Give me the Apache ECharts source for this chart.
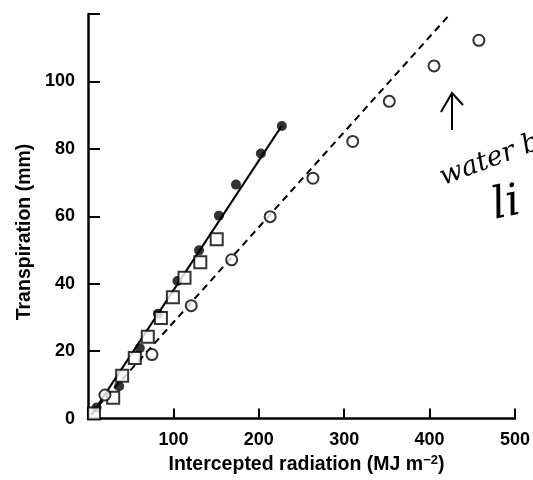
<!DOCTYPE html>
<html>
<head>
<meta charset="utf-8">
<script src="https://cdn.jsdelivr.net/npm/echarts@6/dist/echarts.min.js"></script>
<style>html,body{margin:0;padding:0;background:#fff;}#c{width:533px;height:480px;}</style>
</head>
<body>
<div id="c"></div>
<script>
// Filled circles (solid line)
var filledX = [10, 36.5, 60.6, 81.9, 104.7, 130, 153.3, 173.3, 202.4, 227];
var filledY = [3.3, 9.6, 20.9, 31.1, 40.8, 49.9, 60.2, 69.4, 78.6, 86.8];
// Open squares
var squareX = [7, 29.5, 40, 54.8, 70, 85.4, 99.4, 113, 131.5, 150.7];
var squareY = [1.5, 6.2, 12.7, 18, 24.3, 29.8, 36, 41.8, 46.4, 53.2];
// Open circles (dashed line)
var openX = [19.8, 74.9, 120.9, 168.2, 213.3, 263.4, 310, 352.8, 405.2, 457.7];
var openY = [7.0, 19.0, 33.5, 47.1, 59.9, 71.3, 82.2, 94.1, 104.6, 112.2];
// Fitted lines (end points)
var solidLineX = [4, 227];
var solidLineY = [1.1, 86.9];
var dashLineX = [12, 424];
var dashLineY = [3.7, 120];
// Axis ticks
var xTicks = [0, 100, 200, 300, 400, 500];
var yTicks = [0, 20, 40, 60, 80, 100, 120];
// Texts
var xTitle = 'Intercepted radiation (MJ m{sup|−2})';
var yTitle = 'Transpiration (mm)';
var note1 = 'water be';
var note2 = 'li';

function pairs(xs, ys) { return xs.map(function (x, i) { return [x, ys[i]]; }); }

var FONT = 'Liberation Sans';
var chart = echarts.init(document.getElementById('c'));
chart.setOption({
  animation: false,
  backgroundColor: '#fff',
  grid: { left: 88, right: 16, top: 14, bottom: 53, containLabel: false },
  xAxis: {
    type: 'value', min: 0, max: 500, interval: 100,
    name: xTitle,
    nameLocation: 'middle', nameGap: 34,
    nameTextStyle: {
      fontFamily: FONT, fontSize: 19.5, color: '#000', fontWeight: 'bold', padding: [0, 0, 0, 10],
      rich: { sup: { fontFamily: FONT, fontSize: 13, fontWeight: 'bold', color: '#000', verticalAlign: 'top', padding: [0, 0, 10, 0] } }
    },
    axisLine: { lineStyle: { color: '#000', width: 2.5 } },
    axisTick: { inside: true, length: 10, lineStyle: { color: '#000', width: 2 } },
    axisLabel: {
      fontFamily: FONT, fontSize: 18, color: '#000', fontWeight: 'bold', margin: 12,
      formatter: function (v) { return v === 0 ? '' : String(v); }
    },
    splitLine: { show: false }
  },
  yAxis: {
    type: 'value', min: 0, max: 120, interval: 20,
    axisLine: { lineStyle: { color: '#000', width: 2.5 } },
    axisTick: { inside: true, length: 12, lineStyle: { color: '#000', width: 2 } },
    axisLabel: {
      fontFamily: FONT, fontSize: 18, color: '#000', fontWeight: 'bold', margin: 13,
      formatter: function (v) { return v === 120 ? '' : String(v); }
    },
    splitLine: { show: false }
  },
  series: [
    {
      type: 'line', data: pairs(solidLineX, solidLineY), symbol: 'none',
      lineStyle: { color: '#000', width: 2 }, z: 2
    },
    {
      type: 'line', data: pairs(dashLineX, dashLineY), symbol: 'none',
      lineStyle: { color: '#000', width: 2, type: [7, 5] }, z: 2
    },
    {
      type: 'scatter', data: pairs(filledX, filledY), symbol: 'circle', symbolSize: 10,
      itemStyle: { color: '#000' }, z: 3
    },
    {
      type: 'scatter', data: pairs(squareX, squareY), symbol: 'rect', symbolSize: 12,
      itemStyle: { color: '#fff', borderColor: '#000', borderWidth: 2 }, z: 4
    },
    {
      type: 'scatter', data: pairs(openX, openY), symbol: 'circle', symbolSize: 11,
      itemStyle: { color: '#fff', borderColor: '#000', borderWidth: 2 }, z: 4
    }
  ],
  graphic: [
    { type: 'text', x: 25, y: 232, rotation: Math.PI / 2,
      style: { text: yTitle, fontFamily: FONT, fontSize: 19.5, fontWeight: 'bold', fill: '#000', textAlign: 'center', textVerticalAlign: 'middle' } },
    { type: 'polyline', shape: { points: [[452, 130], [452, 94]] }, style: { stroke: '#000', lineWidth: 2, fill: null } },
    { type: 'polyline', shape: { points: [[441, 112], [452, 93], [463, 105]] }, style: { stroke: '#000', lineWidth: 2, fill: null } },
    { type: 'text', x: 436, y: 166, rotation: 0.36,
      style: { text: note1, fontFamily: 'DejaVu Serif', fontStyle: 'italic', fontSize: 27, fill: '#000' } },
    { type: 'text', x: 488, y: 186, rotation: 0.2,
      style: { text: note2, fontFamily: 'DejaVu Serif', fontStyle: 'italic', fontSize: 44, fill: '#000' } }
  ]
});
</script>
</body>
</html>
